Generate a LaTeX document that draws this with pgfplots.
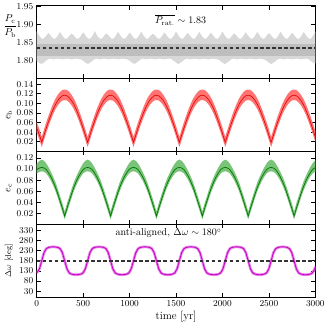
\documentclass[border=0pt]{standalone}
\usepackage{pgfplots}
\pgfplotsset{compat=1.18}
\usepackage{pgfplotstable}
\usepgfplotslibrary{groupplots,fillbetween}

\definecolor{bandgray}{RGB}{216,216,216}
\definecolor{coregray}{RGB}{190,190,190}
\definecolor{ebband}{RGB}{255,115,115}
\definecolor{ebline}{RGB}{228,0,0}
\definecolor{ecband}{RGB}{122,196,122}
\definecolor{ecline}{RGB}{0,118,0}
\definecolor{dwband}{RGB}{230,130,230}
\definecolor{dwline}{RGB}{200,0,200}

% period ratio envelope (every 25 yr)
\pgfplotstableread{
t lo hi
0 1.799 1.880
25 1.794 1.869
50 1.790 1.861
75 1.794 1.860
100 1.799 1.868
125 1.804 1.876
150 1.805 1.869
175 1.803 1.861
200 1.804 1.860
225 1.805 1.868
250 1.804 1.879
275 1.803 1.869
300 1.804 1.861
325 1.805 1.860
350 1.804 1.868
375 1.803 1.874
400 1.804 1.869
425 1.805 1.861
450 1.804 1.860
475 1.803 1.868
500 1.799 1.878
525 1.794 1.869
550 1.790 1.861
575 1.794 1.860
600 1.799 1.868
625 1.804 1.881
650 1.805 1.869
675 1.803 1.861
700 1.804 1.860
725 1.805 1.868
750 1.804 1.875
775 1.803 1.869
800 1.804 1.861
825 1.805 1.860
850 1.804 1.868
875 1.803 1.879
900 1.804 1.869
925 1.805 1.861
950 1.804 1.860
975 1.803 1.868
1000 1.799 1.877
1025 1.794 1.869
1050 1.790 1.861
1075 1.794 1.860
1100 1.799 1.868
1125 1.804 1.880
1150 1.805 1.869
1175 1.803 1.861
1200 1.804 1.860
1225 1.805 1.868
1250 1.804 1.874
1275 1.803 1.869
1300 1.804 1.861
1325 1.805 1.860
1350 1.804 1.868
1375 1.803 1.878
1400 1.804 1.869
1425 1.805 1.861
1450 1.804 1.860
1475 1.799 1.868
1500 1.794 1.881
1525 1.790 1.869
1550 1.794 1.861
1575 1.799 1.860
1600 1.804 1.868
1625 1.805 1.876
1650 1.803 1.869
1675 1.804 1.861
1700 1.805 1.860
1725 1.804 1.868
1750 1.803 1.879
1775 1.804 1.869
1800 1.805 1.861
1825 1.804 1.860
1850 1.803 1.868
1875 1.804 1.877
1900 1.805 1.869
1925 1.804 1.861
1950 1.803 1.860
1975 1.799 1.868
2000 1.794 1.880
2025 1.790 1.869
2050 1.794 1.861
2075 1.799 1.860
2100 1.804 1.868
2125 1.805 1.875
2150 1.803 1.869
2175 1.804 1.861
2200 1.805 1.860
2225 1.804 1.868
2250 1.803 1.878
2275 1.804 1.869
2300 1.805 1.861
2325 1.804 1.860
2350 1.803 1.868
2375 1.804 1.879
2400 1.805 1.869
2425 1.804 1.861
2450 1.803 1.860
2475 1.799 1.868
2500 1.794 1.876
2525 1.790 1.869
2550 1.794 1.861
2575 1.799 1.860
2600 1.804 1.868
2625 1.805 1.880
2650 1.803 1.869
2675 1.804 1.861
2700 1.805 1.860
2725 1.804 1.868
2750 1.803 1.877
2775 1.804 1.869
2800 1.805 1.861
2825 1.804 1.860
2850 1.803 1.868
2875 1.804 1.879
2900 1.805 1.869
2925 1.804 1.861
2950 1.799 1.860
2975 1.794 1.868
3000 1.792 1.880
}\pratio

% eccentricities and apsidal angle
\pgfplotstableread{
t eb ebl ebu ec ecl ecu dw
0 0.049 0.039 0.061 0.099 0.092 0.110 120
29.3 0.034 0.024 0.046 0.102 0.095 0.115 140
54.0 0.019 0.009 0.030 0.103 0.096 0.117 180
78.7 0.034 0.024 0.046 0.102 0.095 0.115 220
103.4 0.049 0.039 0.061 0.099 0.092 0.110 240
128.1 0.063 0.053 0.075 0.093 0.086 0.103 246
152.8 0.076 0.066 0.088 0.086 0.079 0.095 248
177.5 0.088 0.078 0.100 0.077 0.070 0.086 249
202.2 0.098 0.088 0.110 0.067 0.060 0.076 248
226.9 0.106 0.096 0.118 0.055 0.048 0.064 246
251.6 0.112 0.102 0.124 0.042 0.035 0.051 240
276.3 0.116 0.106 0.128 0.029 0.022 0.038 220
301.0 0.117 0.107 0.129 0.015 0.009 0.023 180
325.7 0.116 0.106 0.128 0.029 0.022 0.038 140
350.4 0.112 0.102 0.124 0.042 0.035 0.051 120
375.1 0.106 0.096 0.118 0.055 0.048 0.064 114
399.8 0.098 0.088 0.110 0.067 0.060 0.076 112
424.5 0.088 0.078 0.100 0.077 0.070 0.086 111
449.2 0.076 0.066 0.088 0.086 0.079 0.095 112
473.9 0.063 0.053 0.075 0.093 0.086 0.103 114
498.6 0.049 0.039 0.061 0.099 0.092 0.110 120
523.3 0.034 0.024 0.046 0.102 0.095 0.115 140
548.0 0.019 0.009 0.030 0.103 0.096 0.117 180
572.7 0.034 0.024 0.046 0.102 0.095 0.115 220
597.4 0.049 0.039 0.061 0.099 0.092 0.110 240
622.1 0.063 0.053 0.075 0.093 0.086 0.103 246
646.8 0.076 0.066 0.088 0.086 0.079 0.095 248
671.5 0.088 0.078 0.100 0.077 0.070 0.086 249
696.2 0.098 0.088 0.110 0.067 0.060 0.076 248
720.9 0.106 0.096 0.118 0.055 0.048 0.064 246
745.6 0.112 0.102 0.124 0.042 0.035 0.051 240
770.3 0.116 0.106 0.128 0.029 0.022 0.038 220
795.0 0.117 0.107 0.129 0.015 0.009 0.023 180
819.7 0.116 0.106 0.128 0.029 0.022 0.038 140
844.4 0.112 0.102 0.124 0.042 0.035 0.051 120
869.1 0.106 0.096 0.118 0.055 0.048 0.064 114
893.8 0.098 0.088 0.110 0.067 0.060 0.076 112
918.5 0.088 0.078 0.100 0.077 0.070 0.086 111
943.2 0.076 0.066 0.088 0.086 0.079 0.095 112
967.9 0.063 0.053 0.075 0.093 0.086 0.103 114
992.6 0.049 0.039 0.061 0.099 0.092 0.110 120
1017.3 0.034 0.024 0.046 0.102 0.095 0.115 140
1042.0 0.019 0.009 0.030 0.103 0.096 0.117 180
1066.7 0.034 0.024 0.046 0.102 0.095 0.115 220
1091.4 0.049 0.039 0.061 0.099 0.092 0.110 240
1116.1 0.063 0.053 0.075 0.093 0.086 0.103 246
1140.8 0.076 0.066 0.088 0.086 0.079 0.095 248
1165.5 0.088 0.078 0.100 0.077 0.070 0.086 249
1190.2 0.098 0.088 0.110 0.067 0.060 0.076 248
1214.9 0.106 0.096 0.118 0.055 0.048 0.064 246
1239.6 0.112 0.102 0.124 0.042 0.035 0.051 240
1264.3 0.116 0.106 0.128 0.029 0.022 0.038 220
1289.0 0.117 0.107 0.129 0.015 0.009 0.023 180
1313.7 0.116 0.106 0.128 0.029 0.022 0.038 140
1338.4 0.112 0.102 0.124 0.042 0.035 0.051 120
1363.1 0.106 0.096 0.118 0.055 0.048 0.064 114
1387.8 0.098 0.088 0.110 0.067 0.060 0.076 112
1412.5 0.088 0.078 0.100 0.077 0.070 0.086 111
1437.2 0.076 0.066 0.088 0.086 0.079 0.095 112
1461.9 0.063 0.053 0.075 0.093 0.086 0.103 114
1486.6 0.049 0.039 0.061 0.099 0.092 0.110 120
1511.3 0.034 0.024 0.046 0.102 0.095 0.115 140
1536.0 0.019 0.009 0.030 0.103 0.096 0.117 180
1560.7 0.034 0.024 0.046 0.102 0.095 0.115 220
1585.4 0.049 0.039 0.061 0.099 0.092 0.110 240
1610.1 0.063 0.053 0.075 0.093 0.086 0.103 246
1634.8 0.076 0.066 0.088 0.086 0.079 0.095 248
1659.5 0.088 0.078 0.100 0.077 0.070 0.086 249
1684.2 0.098 0.088 0.110 0.067 0.060 0.076 248
1708.9 0.106 0.096 0.118 0.055 0.048 0.064 246
1733.6 0.112 0.102 0.124 0.042 0.035 0.051 240
1758.3 0.116 0.106 0.128 0.029 0.022 0.038 220
1783.0 0.117 0.107 0.129 0.015 0.009 0.023 180
1807.7 0.116 0.106 0.128 0.029 0.022 0.038 140
1832.4 0.112 0.102 0.124 0.042 0.035 0.051 120
1857.1 0.106 0.096 0.118 0.055 0.048 0.064 114
1881.8 0.098 0.088 0.110 0.067 0.060 0.076 112
1906.5 0.088 0.078 0.100 0.077 0.070 0.086 111
1931.2 0.076 0.066 0.088 0.086 0.079 0.095 112
1955.9 0.063 0.053 0.075 0.093 0.086 0.103 114
1980.6 0.049 0.039 0.061 0.099 0.092 0.110 120
2005.3 0.034 0.024 0.046 0.102 0.095 0.115 140
2030.0 0.019 0.009 0.030 0.103 0.096 0.117 180
2054.7 0.034 0.024 0.046 0.102 0.095 0.115 220
2079.4 0.049 0.039 0.061 0.099 0.092 0.110 240
2104.1 0.063 0.053 0.075 0.093 0.086 0.103 246
2128.8 0.076 0.066 0.088 0.086 0.079 0.095 248
2153.5 0.088 0.078 0.100 0.077 0.070 0.086 249
2178.2 0.098 0.088 0.110 0.067 0.060 0.076 248
2202.9 0.106 0.096 0.118 0.055 0.048 0.064 246
2227.6 0.112 0.102 0.124 0.042 0.035 0.051 240
2252.3 0.116 0.106 0.128 0.029 0.022 0.038 220
2277.0 0.117 0.107 0.129 0.015 0.009 0.023 180
2301.7 0.116 0.106 0.128 0.029 0.022 0.038 140
2326.4 0.112 0.102 0.124 0.042 0.035 0.051 120
2351.1 0.106 0.096 0.118 0.055 0.048 0.064 114
2375.8 0.098 0.088 0.110 0.067 0.060 0.076 112
2400.5 0.088 0.078 0.100 0.077 0.070 0.086 111
2425.2 0.076 0.066 0.088 0.086 0.079 0.095 112
2449.9 0.063 0.053 0.075 0.093 0.086 0.103 114
2474.6 0.049 0.039 0.061 0.099 0.092 0.110 120
2499.3 0.034 0.024 0.046 0.102 0.095 0.115 140
2524.0 0.019 0.009 0.030 0.103 0.096 0.117 180
2548.7 0.034 0.024 0.046 0.102 0.095 0.115 220
2573.4 0.049 0.039 0.061 0.099 0.092 0.110 240
2598.1 0.063 0.053 0.075 0.093 0.086 0.103 246
2622.8 0.076 0.066 0.088 0.086 0.079 0.095 248
2647.5 0.088 0.078 0.100 0.077 0.070 0.086 249
2672.2 0.098 0.088 0.110 0.067 0.060 0.076 248
2696.9 0.106 0.096 0.118 0.055 0.048 0.064 246
2721.6 0.112 0.102 0.124 0.042 0.035 0.051 240
2746.3 0.116 0.106 0.128 0.029 0.022 0.038 220
2771.0 0.117 0.107 0.129 0.015 0.009 0.023 180
2795.7 0.116 0.106 0.128 0.029 0.022 0.038 140
2820.4 0.112 0.102 0.124 0.042 0.035 0.051 120
2845.1 0.106 0.096 0.118 0.055 0.048 0.064 114
2869.8 0.098 0.088 0.110 0.067 0.060 0.076 112
2894.5 0.088 0.078 0.100 0.077 0.070 0.086 111
2919.2 0.076 0.066 0.088 0.086 0.079 0.095 112
2943.9 0.063 0.053 0.075 0.093 0.086 0.103 114
2968.6 0.049 0.039 0.061 0.099 0.092 0.110 120
2993.3 0.034 0.024 0.046 0.102 0.095 0.115 140
3000 0.030 0.020 0.042 0.102 0.095 0.116 151
}\orbit

\begin{document}
\begin{tikzpicture}
\begin{groupplot}[
  group style={group size=1 by 4, vertical sep=0pt, x descriptions at=edge bottom},
  scale only axis, width=277pt, height=72.5pt,
  xmin=0, xmax=3000, xtick={0,500,...,3000},
  axis line style={line width=1pt},
  major tick length=4pt,
  every tick/.style={black, line width=0.8pt},
  tick align=inside, xtick pos=both, ytick pos=both,
  tick label style={font=\small},
  xticklabel style={/pgf/number format/1000 sep={}},
  yticklabel={\pgfmathprintnumber[fixed,fixed zerofill,precision=2]{\tick}},
  ylabel style={at={(axis description cs:-0.1,0.5)}, anchor=center},
  xlabel={time [yr]},
  xlabel style={font=\fontsize{11}{13}\selectfont, yshift=2pt},
]
% P_c / P_b
\nextgroupplot[ymin=1.75, ymax=1.952, ytick={1.80,1.85,1.90,1.95},
  ylabel={$\displaystyle\frac{P_{\mathrm{c}}}{P_{\mathrm{b}}}$},
  ylabel style={rotate=-90, at={(axis description cs:-0.095,0.72)}}]
\addplot[name path=plo, draw=none] table[x=t, y=lo] {\pratio};
\addplot[name path=phi, draw=none] table[x=t, y=hi] {\pratio};
\addplot[bandgray] fill between[of=phi and plo];
\addplot[fill=coregray, draw=none] coordinates {(0,1.811)(3000,1.811)(3000,1.846)(0,1.846)} -- cycle;
\addplot[black!80, line width=1.6pt, dash pattern=on 3.5pt off 2.5pt] coordinates {(0,1.834)(3000,1.834)};
\node at (axis cs:1550,1.912) {$\overline{P_{\mathrm{rat.}}}\sim 1.83$};

% e_b
\nextgroupplot[ymin=0, ymax=0.152, ytick={0.02,0.04,...,0.14},
  ylabel={$e_{\mathrm{b}}$}]
\addplot[name path=ebl, draw=none] table[x=t, y=ebl] {\orbit};
\addplot[name path=ebu, draw=none] table[x=t, y=ebu] {\orbit};
\addplot[ebband] fill between[of=ebu and ebl];
\addplot[ebline, line width=0.6pt] table[x=t, y=eb] {\orbit};

% e_c
\nextgroupplot[ymin=0, ymax=0.132, ytick={0.02,0.04,...,0.12},
  ylabel={$e_{\mathrm{c}}$}]
\addplot[name path=ecl, draw=none] table[x=t, y=ecl] {\orbit};
\addplot[name path=ecu, draw=none] table[x=t, y=ecu] {\orbit};
\addplot[ecband] fill between[of=ecu and ecl];
\addplot[ecline, line width=0.7pt] table[x=t, y=ec] {\orbit};

% Delta omega
\nextgroupplot[ymin=0, ymax=360, ytick={30,80,...,330},
  yticklabel={\pgfmathprintnumber[fixed,precision=0]{\tick}},
  ylabel={$\Delta\omega$ [deg]}, ylabel style={font=\footnotesize}]
\addplot[dwband, line width=2.6pt] table[x=t, y=dw] {\orbit};
\addplot[dwline, line width=0.8pt] table[x=t, y=dw] {\orbit};
\addplot[black!80, line width=1.6pt, dash pattern=on 3.5pt off 2.5pt] coordinates {(0,180)(3000,180)};
\node at (axis cs:1420,316) {anti-aligned, $\Delta\omega\sim 180^\circ$};
\end{groupplot}
\end{tikzpicture}
\end{document}
